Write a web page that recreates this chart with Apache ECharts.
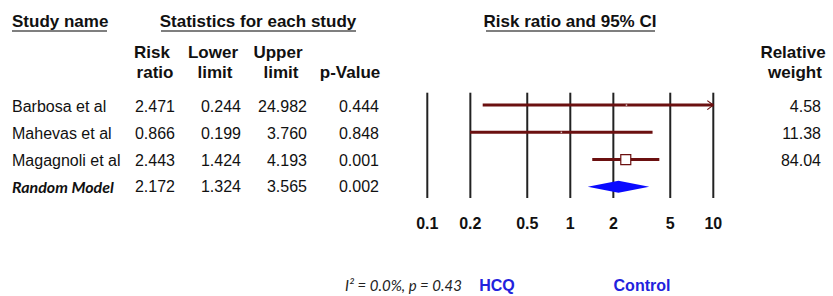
<!DOCTYPE html>
<html>
<head>
<meta charset="utf-8">
<script src="https://cdn.jsdelivr.net/npm/echarts@6/dist/echarts.min.js"></script>
<style>
  html, body { margin: 0; padding: 0; background: #fff; }
  #main { width: 833px; height: 296px; }
</style>
</head>
<body>
<div id="main"></div>
<script>
// 数据
var studyNames = ['Barbosa et al', 'Mahevas et al', 'Magagnoli et al', 'Random Model'];
var riskRatio = [2.471, 0.866, 2.443, 2.172];
var lowerLimit = [0.244, 0.199, 1.424, 1.324];
var upperLimit = [24.982, 3.760, 4.193, 3.565];
var pValue = [0.444, 0.848, 0.001, 0.002];
var relWeight = [4.58, 11.38, 84.04];
var axisTicks = [0.1, 0.2, 0.5, 1, 2, 5, 10];

var Y_MIN = -0.456, Y_MAX = 3.41;
var X_MIN = 0.1, X_MAX = 10;
var lineColor = '#6b1010';

var myChart = echarts.init(document.getElementById('main'), null, {renderer: 'svg'});

// 左边的表格文字
var graphics = [];
function txt(s, x, y, font, align, fill) {
    graphics.push({
        type: 'text',
        style: {text: s, x: x, y: y, font: font, align: align || 'left', verticalAlign: 'middle', fill: fill || '#111'}
    });
}
function underline(x1, x2, y) {
    graphics.push({type: 'line', shape: {x1: x1, y1: y, x2: x2, y2: y}, style: {stroke: '#555', lineWidth: 1.5}});
}
var hFont = 'bold 17px "Liberation Sans", Arial, sans-serif';
var bFont = '16px "Liberation Sans", Arial, sans-serif';

txt('Study name', 12, 21, hFont);
underline(12, 107, 31);
txt('Statistics for each study', 258, 21, hFont, 'center');
underline(161, 356, 31);
txt('Risk ratio and 95% CI', 570, 21, hFont, 'center');
underline(486, 655, 31);

txt('Risk', 152, 52, hFont, 'center');
txt('ratio', 155, 72, hFont, 'center');
txt('Lower', 213, 52, hFont, 'center');
txt('limit', 215, 72, hFont, 'center');
txt('Upper', 278, 52, hFont, 'center');
txt('limit', 281, 72, hFont, 'center');
txt('p-Value', 350, 72, hFont, 'center');
txt('Relative', 793, 52, hFont, 'center');
txt('weight', 795, 72, hFont, 'center');

var rowY = [106, 133, 160, 186];
for (var i = 0; i < studyNames.length; i++) {
    var last = i === studyNames.length - 1;
    txt(studyNames[i], 12, rowY[i], last ? 'italic bold 16px Lato, sans-serif' : bFont);
    txt(riskRatio[i].toFixed(3), 175, rowY[i], bFont, 'right');
    txt(lowerLimit[i].toFixed(3), 241, rowY[i], bFont, 'right');
    txt(upperLimit[i].toFixed(3), 307, rowY[i], bFont, 'right');
    txt(pValue[i].toFixed(3), 379, rowY[i], bFont, 'right');
    if (i < relWeight.length) {
        txt(relWeight[i].toFixed(2), 821, rowY[i], bFont, 'right');
    }
}

// 底部说明
txt('I² = 0.0%, p = 0.43', 345, 285, 'italic 15px Lato, sans-serif', 'left', '#222');
txt('HCQ', 497, 285, 'bold 16px "Liberation Sans", Arial, sans-serif', 'center', '#2222dd');
txt('Control', 642, 285, 'bold 16px "Liberation Sans", Arial, sans-serif', 'center', '#2222dd');

// 每个研究的置信区间
var studyData = [];
for (var i = 0; i < relWeight.length; i++) {
    studyData.push([lowerLimit[i], upperLimit[i], riskRatio[i], i, relWeight[i]]);
}
var pooledData = [[lowerLimit[3], upperLimit[3], riskRatio[3], 3]];
var tickData = axisTicks.map(function (t) { return [t, Y_MIN]; });

var options = {
    animation: false,
    grid: {left: 427.3, right: 119.7, top: 92.7, bottom: 98},
    xAxis: {
        type: 'log', logBase: 10, min: X_MIN, max: X_MAX,
        axisLine: {show: false}, axisTick: {show: false}, axisLabel: {show: false}, splitLine: {show: false}
    },
    yAxis: {
        type: 'value', min: Y_MIN, max: Y_MAX, inverse: true,
        axisLine: {show: false}, axisTick: {show: false}, axisLabel: {show: false}, splitLine: {show: false}
    },
    graphic: graphics,
    series: [
        {
            // 竖线和刻度
            type: 'custom',
            data: tickData,
            encode: {x: 0, y: 1},
            renderItem: function (params, api) {
                var v = api.value(0);
                var p1 = api.coord([v, Y_MIN]);
                var p2 = api.coord([v, Y_MAX]);
                return {
                    type: 'group',
                    children: [
                        {type: 'line', shape: {x1: p1[0], y1: p1[1], x2: p2[0], y2: p2[1]}, style: {stroke: '#222', lineWidth: 2}},
                        {type: 'text', style: {text: String(v), x: p1[0], y: p2[1] + 25, align: 'center', verticalAlign: 'middle',
                            font: 'bold 16px "Liberation Sans", Arial, sans-serif', fill: '#111'}}
                    ]
                };
            }
        },
        {
            type: 'custom',
            data: studyData,
            encode: {x: [0, 1, 2], y: 3},
            renderItem: function (params, api) {
                var lo = Math.max(api.value(0), X_MIN);
                var hi = api.value(1);
                var arrow = hi > X_MAX;
                hi = Math.min(hi, X_MAX);
                var row = api.value(3);
                var a = api.coord([lo, row]);
                var b = api.coord([hi, row]);
                var c = api.coord([api.value(2), row]);
                var s = Math.sqrt(api.value(4)) * 1.09;
                var big = s > 6;
                if (!big) s = 1.5;
                var kids = [
                    {type: 'line', shape: {x1: a[0], y1: a[1], x2: b[0], y2: b[1]}, style: {stroke: lineColor, lineWidth: 3}},
                    {type: 'rect', shape: {x: c[0] - s / 2, y: c[1] - s / 2, width: s, height: s},
                        style: {fill: big ? '#fff' : '#d8c0c0', stroke: big ? lineColor : null, lineWidth: 1.2}}
                ];
                if (arrow) {
                    kids.push({type: 'polyline', shape: {points: [[b[0] - 6, b[1] - 4.5], [b[0], b[1]], [b[0] - 6, b[1] + 4.5]]},
                        style: {stroke: lineColor, lineWidth: 1.2, fill: null}});
                }
                return {type: 'group', children: kids};
            }
        },
        {
            // 合并效应的菱形
            type: 'custom',
            data: pooledData,
            encode: {x: [0, 1, 2], y: 3},
            renderItem: function (params, api) {
                var row = api.value(3);
                var a = api.coord([api.value(0), row]);
                var b = api.coord([api.value(1), row]);
                var c = api.coord([api.value(2), row]);
                return {
                    type: 'polygon',
                    shape: {points: [[a[0], a[1]], [c[0], c[1] - 6], [b[0], b[1]], [c[0], c[1] + 6]]},
                    style: {fill: '#0a0aff'}
                };
            }
        }
    ]
};
myChart.setOption(options, true);
</script>
</body>
</html>
